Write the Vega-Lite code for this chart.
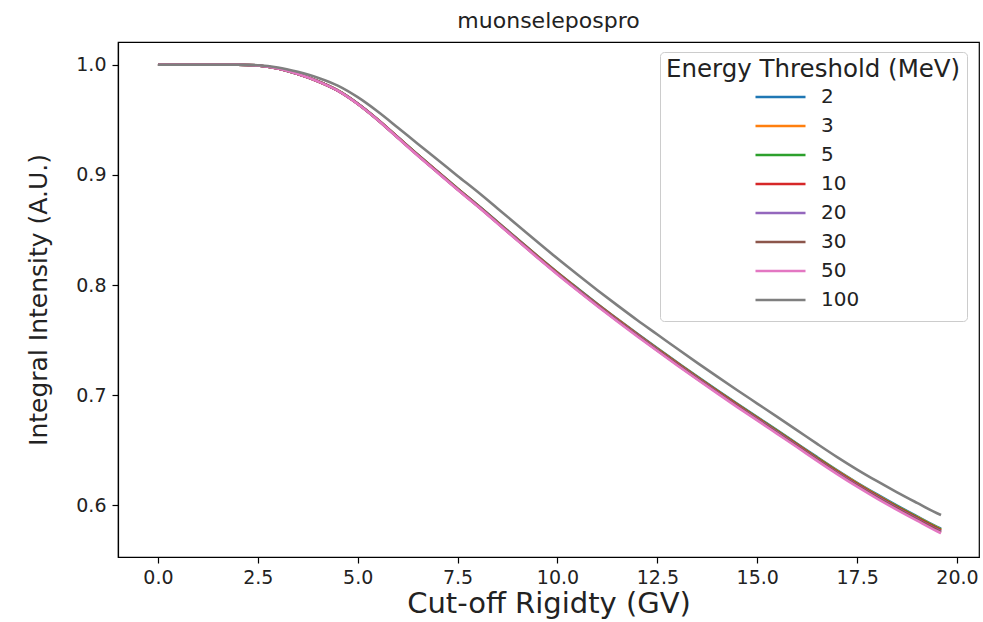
{
  "$schema": "https://vega.github.io/schema/vega-lite/v6.json",
  "width": 861,
  "height": 515,
  "autosize": {"type": "none"},
  "padding": {"left": 118, "top": 42, "right": 4, "bottom": 65},
  "background": "white",
  "title": {"text": "muonselepospro", "fontSize": 22, "font": "DejaVu Sans", "fontWeight": "normal", "offset": 9, "color": "#222222"},
  "data": {"values": [
    {"r": 0.0, "2": 1.0, "3": 1.0, "5": 1.0, "10": 1.0, "20": 1.0, "30": 1.0, "50": 1.0, "100": 1.0},
    {"r": 0.5, "2": 1.0, "3": 1.0, "5": 1.0, "10": 1.0, "20": 1.0, "30": 1.0, "50": 1.0, "100": 1.0},
    {"r": 1.0, "2": 1.0, "3": 1.0, "5": 1.0, "10": 1.0, "20": 1.0, "30": 1.0, "50": 1.0, "100": 1.0},
    {"r": 1.5, "2": 1.0, "3": 1.0, "5": 1.0, "10": 1.0, "20": 1.0, "30": 1.0, "50": 1.0, "100": 1.0},
    {"r": 2.0, "2": 1.0, "3": 1.0, "5": 1.0, "10": 1.0, "20": 1.0, "30": 1.0, "50": 1.0, "100": 1.0},
    {"r": 2.5, "2": 0.9992, "3": 0.9992, "5": 0.9992, "10": 0.9992, "20": 0.9992, "30": 0.9992, "50": 0.9992, "100": 0.9995},
    {"r": 3.0, "2": 0.9965, "3": 0.9965, "5": 0.9965, "10": 0.9965, "20": 0.9965, "30": 0.9965, "50": 0.9965, "100": 0.9975},
    {"r": 3.5, "2": 0.9915, "3": 0.9915, "5": 0.9915, "10": 0.9915, "20": 0.9915, "30": 0.9915, "50": 0.9915, "100": 0.9935},
    {"r": 4.0, "2": 0.9851, "3": 0.985, "5": 0.985, "10": 0.985, "20": 0.985, "30": 0.985, "50": 0.9849, "100": 0.9882},
    {"r": 4.5, "2": 0.9766, "3": 0.9766, "5": 0.9766, "10": 0.9765, "20": 0.9765, "30": 0.9764, "50": 0.9764, "100": 0.981},
    {"r": 5.0, "2": 0.9647, "3": 0.9646, "5": 0.9646, "10": 0.9645, "20": 0.9645, "30": 0.9644, "50": 0.9643, "100": 0.9705},
    {"r": 5.5, "2": 0.9502, "3": 0.9502, "5": 0.9501, "10": 0.95, "20": 0.95, "30": 0.9499, "50": 0.9498, "100": 0.9575},
    {"r": 6.0, "2": 0.9343, "3": 0.9342, "5": 0.9342, "10": 0.9341, "20": 0.9339, "30": 0.9338, "50": 0.9337, "100": 0.943},
    {"r": 6.5, "2": 0.9184, "3": 0.9183, "5": 0.9182, "10": 0.9181, "20": 0.9179, "30": 0.9178, "50": 0.9176, "100": 0.9282},
    {"r": 7.0, "2": 0.903, "3": 0.9028, "5": 0.9027, "10": 0.9026, "20": 0.9024, "30": 0.9023, "50": 0.902, "100": 0.9137},
    {"r": 7.5, "2": 0.8875, "3": 0.8874, "5": 0.8873, "10": 0.8871, "20": 0.8869, "30": 0.8867, "50": 0.8865, "100": 0.899},
    {"r": 8.0, "2": 0.8726, "3": 0.8724, "5": 0.8723, "10": 0.8721, "20": 0.8719, "30": 0.8717, "50": 0.8714, "100": 0.8846},
    {"r": 8.5, "2": 0.8572, "3": 0.857, "5": 0.8568, "10": 0.8566, "20": 0.8564, "30": 0.8562, "50": 0.8558, "100": 0.8695},
    {"r": 9.0, "2": 0.8418, "3": 0.8415, "5": 0.8414, "10": 0.8412, "20": 0.8409, "30": 0.8406, "50": 0.8403, "100": 0.8543},
    {"r": 9.5, "2": 0.8263, "3": 0.8261, "5": 0.8259, "10": 0.8257, "20": 0.8253, "30": 0.8251, "50": 0.8247, "100": 0.839},
    {"r": 10.0, "2": 0.8114, "3": 0.8111, "5": 0.8109, "10": 0.8107, "20": 0.8103, "30": 0.8101, "50": 0.8096, "100": 0.824},
    {"r": 10.5, "2": 0.797, "3": 0.7967, "5": 0.7965, "10": 0.7962, "20": 0.7958, "30": 0.7955, "50": 0.795, "100": 0.8095},
    {"r": 11.0, "2": 0.7828, "3": 0.7825, "5": 0.7823, "10": 0.782, "20": 0.7816, "30": 0.7813, "50": 0.7808, "100": 0.7953},
    {"r": 11.5, "2": 0.7691, "3": 0.7688, "5": 0.7685, "10": 0.7682, "20": 0.7678, "30": 0.7675, "50": 0.7669, "100": 0.7815},
    {"r": 12.0, "2": 0.7557, "3": 0.7553, "5": 0.7551, "10": 0.7547, "20": 0.7543, "30": 0.7539, "50": 0.7533, "100": 0.768},
    {"r": 12.5, "2": 0.7425, "3": 0.7422, "5": 0.7419, "10": 0.7415, "20": 0.7411, "30": 0.7407, "50": 0.7401, "100": 0.7551},
    {"r": 13.0, "2": 0.7296, "3": 0.7292, "5": 0.7289, "10": 0.7286, "20": 0.728, "30": 0.7277, "50": 0.727, "100": 0.7421},
    {"r": 13.5, "2": 0.7168, "3": 0.7164, "5": 0.7162, "10": 0.7158, "20": 0.7152, "30": 0.7148, "50": 0.7142, "100": 0.7293},
    {"r": 14.0, "2": 0.7044, "3": 0.704, "5": 0.7037, "10": 0.7033, "20": 0.7027, "30": 0.7023, "50": 0.7016, "100": 0.7168},
    {"r": 14.5, "2": 0.6922, "3": 0.6917, "5": 0.6914, "10": 0.691, "20": 0.6904, "30": 0.69, "50": 0.6892, "100": 0.7045},
    {"r": 15.0, "2": 0.6801, "3": 0.6797, "5": 0.6794, "10": 0.6789, "20": 0.6783, "30": 0.6778, "50": 0.6771, "100": 0.6924},
    {"r": 15.5, "2": 0.6681, "3": 0.6676, "5": 0.6673, "10": 0.6668, "20": 0.6662, "30": 0.6657, "50": 0.6649, "100": 0.6803},
    {"r": 16.0, "2": 0.6559, "3": 0.6554, "5": 0.6551, "10": 0.6546, "20": 0.654, "30": 0.6535, "50": 0.6527, "100": 0.6681},
    {"r": 16.5, "2": 0.6437, "3": 0.6432, "5": 0.6428, "10": 0.6423, "20": 0.6417, "30": 0.6412, "50": 0.6403, "100": 0.6558},
    {"r": 17.0, "2": 0.6318, "3": 0.6312, "5": 0.6309, "10": 0.6304, "20": 0.6297, "30": 0.6291, "50": 0.6283, "100": 0.6438},
    {"r": 17.5, "2": 0.6205, "3": 0.62, "5": 0.6196, "10": 0.6191, "20": 0.6183, "30": 0.6178, "50": 0.6169, "100": 0.6325},
    {"r": 18.0, "2": 0.6099, "3": 0.6093, "5": 0.6089, "10": 0.6084, "20": 0.6076, "30": 0.6071, "50": 0.6061, "100": 0.6219},
    {"r": 18.5, "2": 0.5997, "3": 0.5991, "5": 0.5988, "10": 0.5982, "20": 0.5974, "30": 0.5969, "50": 0.5959, "100": 0.6118},
    {"r": 19.0, "2": 0.59, "3": 0.5894, "5": 0.589, "10": 0.5884, "20": 0.5876, "30": 0.587, "50": 0.5861, "100": 0.6022},
    {"r": 19.5, "2": 0.5805, "3": 0.5799, "5": 0.5795, "10": 0.5789, "20": 0.5781, "30": 0.5775, "50": 0.5765, "100": 0.5928},
    {"r": 19.6, "2": 0.5787, "3": 0.5781, "5": 0.5777, "10": 0.5771, "20": 0.5763, "30": 0.5757, "50": 0.5747, "100": 0.5912}
  ]},
  "transform": [{"fold": ["2", "3", "5", "10", "20", "30", "50", "100"], "as": ["energy", "intensity"]}],
  "mark": {"type": "line", "strokeWidth": 2.6, "interpolate": "monotone"},
  "encoding": {
    "x": {
      "field": "r", "type": "quantitative",
      "scale": {"domain": [-1.0, 20.55], "nice": false, "zero": false},
      "axis": {"title": "Cut-off Rigidty (GV)", "values": [0, 2.5, 5, 7.5, 10, 12.5, 15, 17.5, 20], "format": ".1f", "titleFontSize": 29, "titlePadding": 2, "labelFontSize": 19, "labelPadding": 5}
    },
    "y": {
      "field": "intensity", "type": "quantitative",
      "scale": {"domain": [0.5531, 1.0206], "nice": false, "zero": false},
      "axis": {"title": "Integral Intensity (A.U.)", "values": [0.6, 0.7, 0.8, 0.9, 1.0], "format": ".1f", "titleFontSize": 25, "titlePadding": 24, "labelFontSize": 19, "labelPadding": 6}
    },
    "color": {
      "field": "energy", "type": "nominal",
      "scale": {"domain": ["2", "3", "5", "10", "20", "30", "50", "100"], "range": ["#1f77b4", "#ff7f0e", "#2ca02c", "#d62728", "#9467bd", "#8c564b", "#e377c2", "#7f7f7f"]},
      "legend": {
        "title": "Energy Threshold (MeV)", "orient": "none", "legendX": 542, "legendY": 10,
        "symbolType": "stroke", "symbolSize": 2500, "symbolStrokeWidth": 2.5, "symbolOffset": 88,
        "labelOffset": 14, "labelFontSize": 20, "titleFontSize": 24.5, "titleFontWeight": "normal",
        "titleLimit": 400, "titleAnchor": "start", "titlePadding": 0, "padding": 6, "rowPadding": 0, "clipHeight": 29,
        "fillColor": "rgba(255,255,255,0.8)", "strokeColor": "#cccccc", "cornerRadius": 4,
        "labelColor": "#222222", "titleColor": "#222222"
      }
    }
  },
  "config": {
    "font": "DejaVu Sans",
    "view": {"stroke": "black", "strokeWidth": 1.2},
    "axis": {"grid": false, "domainColor": "black", "domainWidth": 1.2, "tickColor": "black", "tickSize": 6, "tickWidth": 1.2, "labelColor": "#222222", "titleColor": "#222222", "titleFontWeight": "normal", "labelFont": "DejaVu Sans", "titleFont": "DejaVu Sans"},
    "legend": {"labelFont": "DejaVu Sans", "titleFont": "DejaVu Sans"}
  }
}
